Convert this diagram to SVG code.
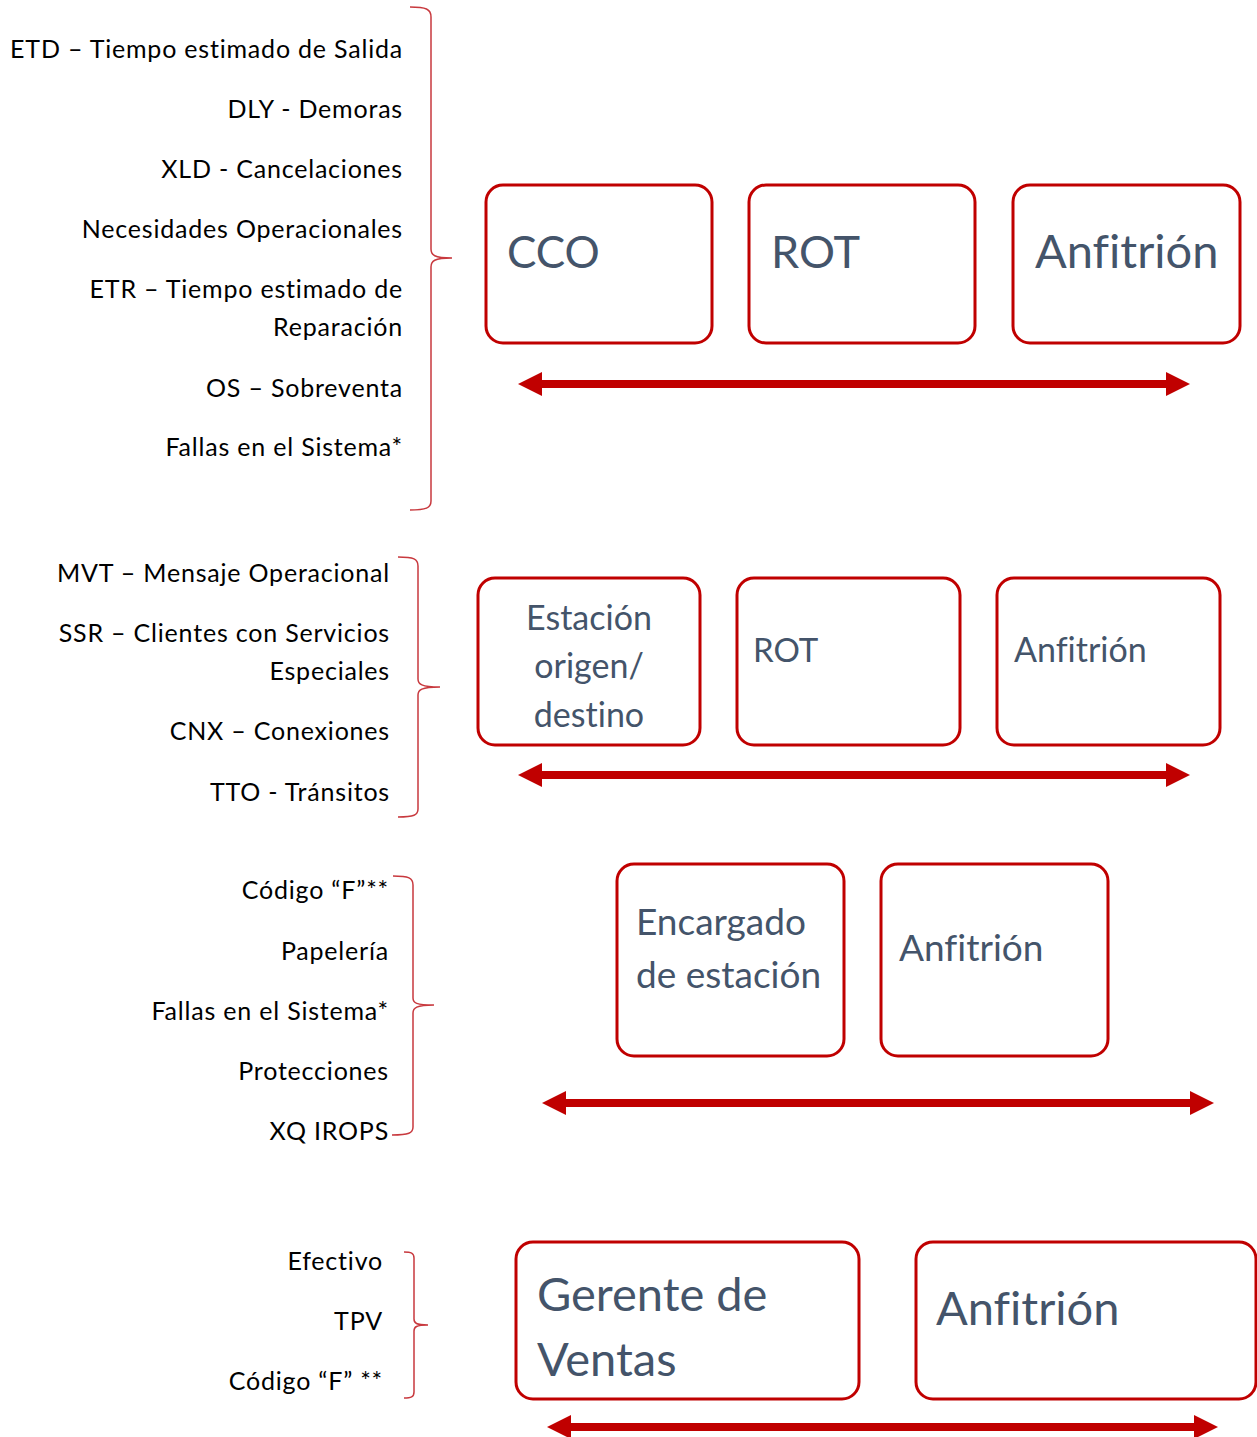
<svg xmlns="http://www.w3.org/2000/svg" width="1257" height="1437" viewBox="0 0 1257 1437">
<style>
text{font-variant-ligatures:none}
.box{fill:#fff;stroke:#C00000;stroke-width:3}
.bt{font-family:Lato,"Open Sans","Liberation Sans",sans-serif;fill:#44546A}
.lt{font-family:Lato,"Open Sans","Liberation Sans",sans-serif;font-size:25px;letter-spacing:0.8px;fill:#000;text-anchor:end}
.brace{fill:none;stroke:#C8393E;stroke-width:1.5}
.arr{stroke:#C00000;stroke-width:8;marker-start:url(#ah);marker-end:url(#ah)}
</style>
<defs>
<marker id="ah" viewBox="0 0 24 24" markerWidth="24" markerHeight="24" refX="12" refY="12" markerUnits="userSpaceOnUse" orient="auto-start-reverse">
<path d="M0,0 L24,12 L0,24 Z" fill="#C00000"/>
</marker>
</defs>
<rect width="1257" height="1437" fill="#fff"/>

<g id="list1">
<text class="lt" x="403" y="58">ETD – Tiempo estimado de Salida</text>
<text class="lt" x="403" y="118">DLY - Demoras</text>
<text class="lt" x="403" y="178">XLD - Cancelaciones</text>
<text class="lt" x="403" y="238">Necesidades Operacionales</text>
<text class="lt" x="403" y="298">ETR – Tiempo estimado de</text>
<text class="lt" x="403" y="336">Reparación</text>
<text class="lt" x="403" y="397">OS – Sobreventa</text>
<text class="lt" x="403" y="456">Fallas en el Sistema*</text>
</g>
<g id="list2">
<text class="lt" x="390" y="582">MVT – Mensaje Operacional</text>
<text class="lt" x="390" y="642">SSR – Clientes con Servicios</text>
<text class="lt" x="390" y="680">Especiales</text>
<text class="lt" x="390" y="740">CNX – Conexiones</text>
<text class="lt" x="390" y="801">TTO - Tránsitos</text>
</g>
<g id="list3">
<text class="lt" x="389" y="899">Código “F”**</text>
<text class="lt" x="389" y="960">Papelería</text>
<text class="lt" x="389" y="1020">Fallas en el Sistema*</text>
<text class="lt" x="389" y="1080">Protecciones</text>
<text class="lt" x="389" y="1140">XQ IROPS</text>
</g>
<g id="list4">
<text class="lt" x="383" y="1270">Efectivo</text>
<text class="lt" x="383" y="1330">TPV</text>
<text class="lt" x="383" y="1390">Código “F” **</text>
</g>

<g id="braces">
<path class="brace" d="M410,7 C426,7 431,9 431,17 L431,249 C431,255 434,258 452,258 M452,258 C434,258 431,261 431,267 L431,501 C431,508 426,510 410,510"/>
<path class="brace" d="M398,557 C414,557 418,559 418,566 L418,679 C418,684 421,687 440,687 M440,687 C421,687 418,690 418,695 L418,809 C418,815 414,817 398,817"/>
<path class="brace" d="M393,876 C409,876 413,878 413,885 L413,998 C413,1003 416,1005 434,1005 M434,1005 C416,1005 413,1008 413,1013 L413,1127 C413,1133 409,1135 392,1135"/>
<path class="brace" d="M404,1252 C411,1252 414,1253 414,1258 L414,1319 C414,1323 416,1325 428,1325 M428,1325 C416,1325 414,1327 414,1331 L414,1392 C414,1397 411,1398 404,1398"/>
</g>

<g id="node-cco"><rect class="box" x="486" y="185" width="226" height="158" rx="17"/><text class="bt" x="507" y="268" font-size="44">CCO</text></g>
<g id="node-rot1"><rect class="box" x="749" y="185" width="226" height="158" rx="17"/><text class="bt" x="771" y="268" font-size="45">ROT</text></g>
<g id="node-anf1"><rect class="box" x="1013" y="185" width="227" height="158" rx="17"/><text class="bt" x="1035" y="268" font-size="47">Anfitrión</text></g>

<g id="node-estacion"><rect class="box" x="478" y="578" width="222" height="167" rx="17"/><text class="bt" font-size="34" text-anchor="middle"><tspan x="589" y="630">Estación</tspan><tspan x="589" y="678">origen/</tspan><tspan x="589" y="727">destino</tspan></text></g>
<g id="node-rot2"><rect class="box" x="737" y="578" width="223" height="167" rx="17"/><text class="bt" x="753" y="662" font-size="33">ROT</text></g>
<g id="node-anf2"><rect class="box" x="997" y="578" width="223" height="167" rx="17"/><text class="bt" x="1014" y="662" font-size="34">Anfitrión</text></g>

<g id="node-encargado"><rect class="box" x="617" y="864" width="227" height="192" rx="17"/><text class="bt" font-size="37"><tspan x="636" y="935">Encargado</tspan><tspan x="636" y="988">de estación</tspan></text></g>
<g id="node-anf3"><rect class="box" x="881" y="864" width="227" height="192" rx="17"/><text class="bt" x="899" y="961" font-size="37">Anfitrión</text></g>

<g id="node-gerente"><rect class="box" x="516" y="1242" width="343" height="157" rx="17"/><text class="bt" font-size="47"><tspan x="537" y="1311">Gerente de</tspan><tspan x="537" y="1376">Ventas</tspan></text></g>
<g id="node-anf4"><rect class="box" x="916" y="1242" width="340" height="157" rx="17"/><text class="bt" x="936" y="1325" font-size="47">Anfitrión</text></g>

<g id="connectors">
<line class="arr" x1="530" y1="384" x2="1178" y2="384"/>
<line class="arr" x1="530" y1="775" x2="1178" y2="775"/>
<line class="arr" x1="554" y1="1103" x2="1202" y2="1103"/>
<line class="arr" x1="559" y1="1427" x2="1206" y2="1427"/>
</g>
</svg>
